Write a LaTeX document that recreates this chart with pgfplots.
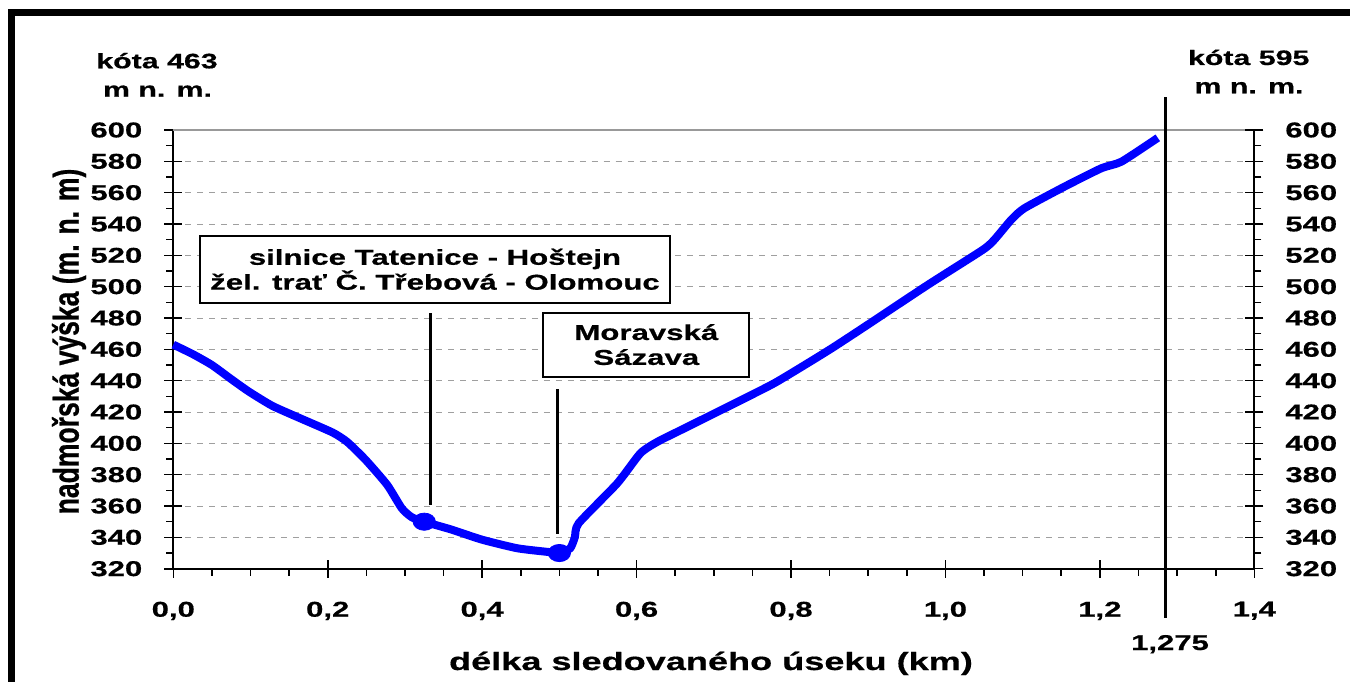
\documentclass[border=0pt]{standalone}
\usepackage{pgfplots}
\pgfplotsset{compat=1.18}
\usepackage{fontspec}
\setmainfont{Liberation Sans}
\newfontfamily\widef{Liberation Sans}[FakeStretch=1.45, BoldFeatures={FakeBold=0.6}]
\newfontfamily\narrowf{Liberation Sans}[FakeStretch=0.74, BoldFeatures={FakeBold=0.6}]
\definecolor{lineblue}{RGB}{0,0,255}

\pgfplotsset{
  base/.style={
    at={(86.65bp,56.65bp)}, anchor=south west,
    scale only axis, width=540.5bp, height=219.35bp,
    xmin=0, xmax=1.4, ymin=320, ymax=600,
    clip=false,
    ytick={320,340,...,600}, minor y tick num=1,
    tick style={black, line width=0.8bp},
    major tick length=9bp, minor tick length=3.5bp,
    tick align=outside,
    axis line style={black, line width=0.9bp},
    /pgf/number format/assume math mode=true,
    ticklabel style={font=\widef\bfseries\fontsize{10.75}{12}\selectfont},
  }
}

\begin{document}
\begin{tikzpicture}
\useasboundingbox (0,0) rectangle (675bp,341bp);
\fill[white] (0,0) rectangle (675bp,341bp);
\draw[line width=3.5bp] (5.5bp,-10bp) -- (5.5bp,334.5bp) -- (700bp,334.5bp);

\begin{axis}[base,
  axis x line*=bottom, axis y line*=left,
  xtick={0,0.2,0.4,0.6,0.8,1.0,1.2,1.4},
  xticklabels={{0,0},{0,2},{0,4},{0,6},{0,8},{1,0},{1,2},{1,4}},
  minor x tick num=3,
  ymajorgrids, grid style={gray!75, dashed, line width=0.5bp},
  major x tick style={yshift=4.5bp},
  major y tick style={xshift=4.5bp},
  xticklabel style={yshift=-4bp},
  yticklabel style={xshift=-3bp},
]
\draw[gray!80, line width=0.8bp] (0,600) -- (1.4,600);
\addplot[lineblue, line width=4bp, smooth, tension=0.35, line join=round] coordinates {
(0,463) (0.025,457) (0.050,450) (0.075,441) (0.098,433) (0.128,424)
(0.162,416.5) (0.206,407) (0.225,401) (0.249,389.5) (0.277,373.5)
(0.296,358.5) (0.309,352.8) (0.325,350) (0.36,345) (0.40,338.5)
(0.446,333) (0.489,330.5) (0.500,330) (0.514,333) (0.520,340)
(0.525,349) (0.575,374.5) (0.605,393.7) (0.627,401) (0.662,409.6)
(0.726,425.3) (0.778,438.3) (0.826,452.5) (0.856,461.7) (0.899,475.6)
(0.977,501.1) (1.048,523.4) (1.063,529.8) (1.085,542.6) (1.102,550)
(1.154,563.8) (1.202,575.6) (1.228,579.8) (1.275,595)
};
\addplot[only marks, mark=*, mark size=4.3bp, mark options={lineblue, fill=lineblue, xscale=1.3}] coordinates {(0.325,350) (0.5,330)};
\draw[line width=1.6bp] (0.333,360.6) -- (0.333,483);
\draw[line width=1.6bp] (0.4975,342.2) -- (0.4975,434.9);
\draw[line width=1.6bp] (1.285,621) -- (1.285,288.5);
\node[draw, line width=1bp, fill=white, minimum width=235bp, minimum height=33.5bp, inner sep=0pt, align=center,
  font=\widef\bfseries\fontsize{10.8}{12.5}\selectfont] at (0.3389,511.1)
  {silnice Tatenice - Hoštejn\\žel. trať Č. Třebová - Olomouc};
\node[draw, line width=1bp, fill=white, minimum width=103bp, minimum height=32bp, inner sep=0pt, align=center,
  font=\widef\bfseries\fontsize{10.8}{12.5}\selectfont] at (0.6126,463)
  {Moravská\\Sázava};
\end{axis}

\begin{axis}[base,
  axis x line=none, axis y line*=right,
  yticklabel pos=right,
  major y tick style={xshift=-4.5bp},
  yticklabel style={xshift=3bp},
]
\addplot[draw=none] coordinates {(0,320)};
\end{axis}

\begin{scope}[every node/.style={inner sep=0pt}]
\node[anchor=base, font=\widef\bfseries\fontsize{10.5}{12}\selectfont] at (78.5bp,306.85bp) {kóta 463};
\node[anchor=base, font=\widef\bfseries\fontsize{10.5}{12}\selectfont] at (78.75bp,292.65bp) {m n. m.};
\node[anchor=base, font=\widef\bfseries\fontsize{10.5}{12}\selectfont] at (624.35bp,308.5bp) {kóta 595};
\node[anchor=base, font=\widef\bfseries\fontsize{10.5}{12}\selectfont] at (624.5bp,294.35bp) {m n. m.};
\node[anchor=base, font=\widef\bfseries\fontsize{10.75}{12}\selectfont] at (585bp,16bp) {1,275};
\node[anchor=base, font=\widef\bfseries\fontsize{12.5}{14}\selectfont] at (355.5bp,6bp) {délka sledovaného úseku (km)};
\node[rotate=90, font=\narrowf\bfseries\fontsize{18}{20}\selectfont] at (34.5bp,170.25bp) {nadmořská výška (m. n. m)};
\end{scope}
\end{tikzpicture}
\end{document}
